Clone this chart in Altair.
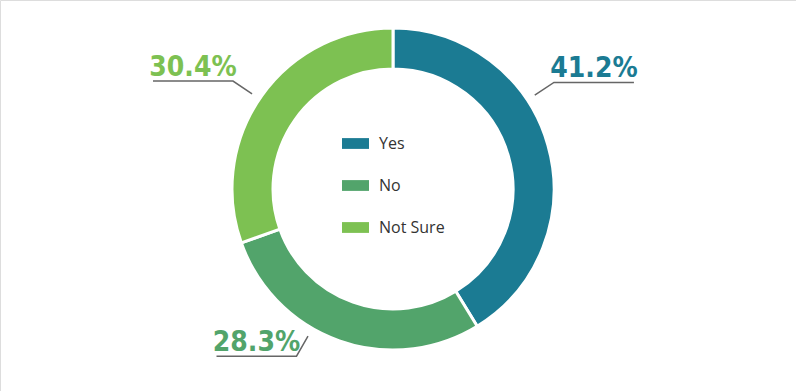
import math
import altair as alt
import pandas as pd

# ---- data ----
categories = ["Yes", "No", "Not Sure"]
values = [41.2, 28.3, 30.4]
colors = ["#1b7b93", "#52a46b", "#7dc152"]

# ---- layout (not data) ----
W, H = 796, 391
CX, CY = 393, 189
R_OUT, R_IN = 161, 120
label_angles = [56.5, 210, 304]   # degrees clockwise from top, where leaders leave the ring
R0, R1, HLEN = 170, 193, 80

df = pd.DataFrame({"cat": categories, "value": values, "order": range(len(categories))})

pts = []
lab = []
for c, v, a in zip(categories, values, label_angles):
    t = math.radians(a)
    sx, sy = CX + R0 * math.sin(t), CY - R0 * math.cos(t)
    ex, ey = CX + R1 * math.sin(t), CY - R1 * math.cos(t)
    d = 1 if a < 180 else -1
    hx = ex + d * HLEN
    pts += [dict(cat=c, i=0, x=sx, y=sy), dict(cat=c, i=1, x=ex, y=ey), dict(cat=c, i=2, x=hx, y=ey)]
    lab.append(dict(cat=c, x=(ex + hx) / 2, y=ey - 5, label=f"{v:.1f}%"))
pts = pd.DataFrame(pts)
lab = pd.DataFrame(lab)

xs = alt.Scale(domain=[0, W], range=[0, W])
ys = alt.Scale(domain=[0, H], range=[0, H])
color_scale = alt.Scale(domain=categories, range=colors)

arcs = alt.Chart(df).mark_arc(
    radius=R_OUT, radius2=R_IN, stroke="white", strokeWidth=3
).encode(
    theta=alt.Theta("value:Q", stack=True),
    order=alt.Order("order:Q"),
    color=alt.Color(
        "cat:N", scale=color_scale, sort=categories,
        legend=alt.Legend(
            title=None, orient="none", legendX=342, legendY=130,
            symbolType="M-1,-0.4H1V0.4H-1Z", symbolSize=729, symbolStrokeWidth=0,
            labelFont="Open Sans", labelFontSize=16, labelColor="#333333",
            labelOffset=10, rowPadding=20,
        ),
    ),
    x=alt.value(CX), y=alt.value(CY),
)

lines = alt.Chart(pts).mark_line(color="#666666", strokeWidth=1.5).encode(
    x=alt.X("x:Q", scale=xs, axis=None),
    y=alt.Y("y:Q", scale=ys, axis=None),
    detail="cat:N",
    order="i:Q",
)

texts = alt.Chart(lab).mark_text(
    font="DejaVu Sans Condensed, Roboto Condensed, Roboto", fontWeight="bold", fontSize=28,
    baseline="alphabetic", align="center"
).encode(
    x=alt.X("x:Q", scale=xs, axis=None),
    y=alt.Y("y:Q", scale=ys, axis=None),
    text="label:N",
    color=alt.Color("cat:N", scale=color_scale, legend=None),
)

chart = alt.layer(arcs, lines, texts).properties(
    width=W, height=H, padding=0, autosize=alt.AutoSizeParams(type="none")
).configure_view(stroke=None).configure(background="white")

chart.save("out.html", embed_options={"renderer": "svg", "actions": False})
